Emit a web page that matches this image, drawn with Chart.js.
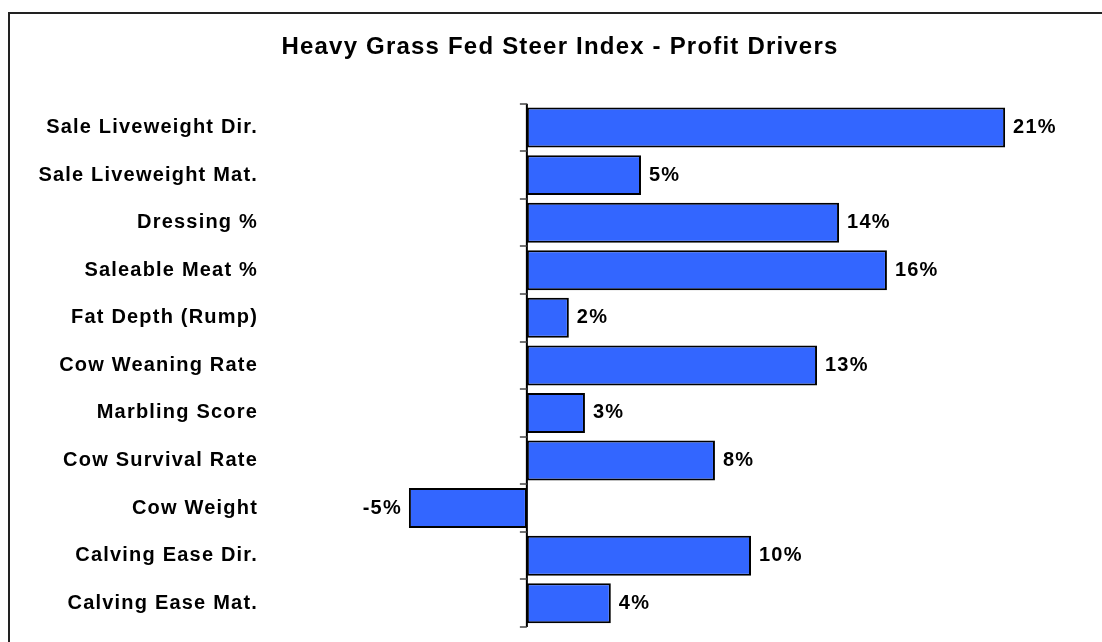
<!DOCTYPE html>
<html>
<head>
<meta charset="utf-8">
<title>Heavy Grass Fed Steer Index - Profit Drivers</title>
<script src="https://cdn.jsdelivr.net/npm/chart.js@4.4.1/dist/chart.umd.min.js"></script>
<style>
  html, body { margin: 0; padding: 0; background: #fff; }
  #wrap { position: relative; width: 1102px; height: 642px; overflow: hidden; }
  #frame { position: absolute; left: 8px; top: 12px; right: -10px; bottom: -10px;
           border-top: 2px solid #222; border-left: 2px solid #222; }
  #chart { position: absolute; left: 0; top: 0; }
</style>
</head>
<body>
<div id="wrap">
  <div id="frame"></div>
  <canvas id="chart" width="1102" height="642"></canvas>
</div>
<script>
// share of profit (%)
const traits = [
  'Sale Liveweight Dir.',
  'Sale Liveweight Mat.',
  'Dressing %',
  'Saleable Meat %',
  'Fat Depth (Rump)',
  'Cow Weaning Rate',
  'Marbling Score',
  'Cow Survival Rate',
  'Cow Weight',
  'Calving Ease Dir.',
  'Calving Ease Mat.'
];
const shares = [21.08, 5.03, 13.76, 15.87, 1.85, 12.79, 2.56, 8.29, -5.2, 9.88, 3.7];

const FONT = '"Liberation Sans", Arial, sans-serif';

// excel-ish wide letter spacing
const spacing = {
  id: 'spacing',
  beforeUpdate(chart) { chart.ctx.letterSpacing = '1.2px'; },
  beforeDraw(chart) { chart.ctx.letterSpacing = '1.2px'; }
};

// zero axis line + short tick marks between categories
const zeroAxis = {
  id: 'zeroAxis',
  afterDatasetsDraw(chart) {
    const { ctx, chartArea, scales } = chart;
    const x0 = scales.x.getPixelForValue(0);
    ctx.save();
    ctx.strokeStyle = '#000';
    ctx.lineWidth = 2;
    ctx.beginPath();
    ctx.moveTo(x0, chartArea.top);
    ctx.lineTo(x0, chartArea.bottom);
    ctx.stroke();
    ctx.strokeStyle = '#444';
    ctx.lineWidth = 1.5;
    for (let i = 0; i <= traits.length; i++) {
      const y = Math.round(scales.y.getPixelForValue(i - 0.5));
      ctx.beginPath();
      ctx.moveTo(x0 - 7, y);
      ctx.lineTo(x0, y);
      ctx.stroke();
    }
    ctx.restore();
  }
};

// value labels at bar ends
const valueLabels = {
  id: 'valueLabels',
  afterDatasetsDraw(chart) {
    const { ctx } = chart;
    const meta = chart.getDatasetMeta(0);
    ctx.save();
    ctx.font = 'bold 20px ' + FONT;
    ctx.fillStyle = '#000';
    ctx.textBaseline = 'middle';
    meta.data.forEach((bar, i) => {
      const v = shares[i];
      const txt = Math.round(v) + '%';
      if (v >= 0) {
        ctx.textAlign = 'left';
        ctx.fillText(txt, bar.x + 8, bar.y);
      } else {
        ctx.textAlign = 'right';
        ctx.fillText(txt, bar.x - 7, bar.y);
      }
    });
    ctx.restore();
  }
};

new Chart(document.getElementById('chart'), {
  type: 'bar',
  data: {
    labels: traits,
    datasets: [{
      data: shares,
      backgroundColor: '#3366FF',
      borderColor: '#000',
      borderWidth: 2,
      borderSkipped: false,
      barPercentage: 0.84,
      categoryPercentage: 1
    }]
  },
  options: {
    indexAxis: 'y',
    responsive: false,
    animation: false,
    layout: { padding: { left: 18, right: 0, top: 0, bottom: 15 } },
    scales: {
      x: { display: false, min: -10, max: 25.35 },
      y: {
        grid: { display: false },
        border: { display: false },
        ticks: {
          color: '#000',
          padding: 34,
          font: { family: FONT, size: 20, weight: 'bold' }
        },
        afterFit(scale) {
          scale.width = 282;
          scale.paddingTop = 0;
          scale.paddingBottom = 0;
        }
      }
    },
    plugins: {
      legend: { display: false },
      tooltip: { enabled: false },
      title: {
        display: true,
        text: 'Heavy Grass Fed Steer Index - Profit Drivers',
        color: '#000',
        font: { family: FONT, size: 24, weight: 'bold' },
        padding: { top: 33, bottom: 42 }
      }
    }
  },
  plugins: [spacing, zeroAxis, valueLabels]
});
</script>
</body>
</html>
